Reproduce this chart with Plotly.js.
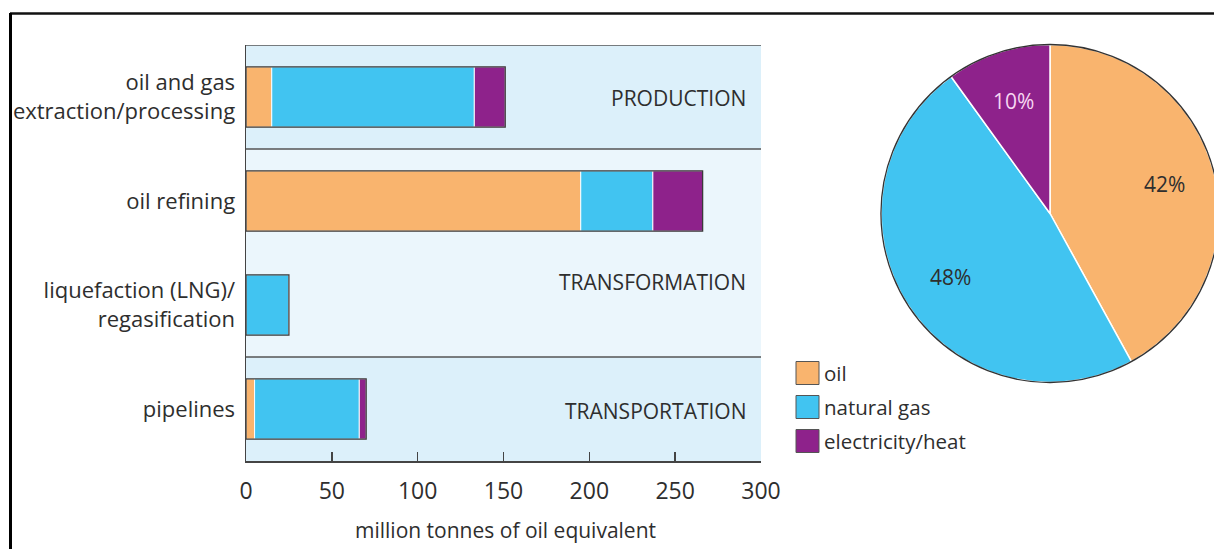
<!DOCTYPE html>
<html>
<head>
<meta charset="utf-8">
<script src="https://cdn.plot.ly/plotly-3.0.1.min.js"></script>
<style>
  html, body { margin: 0; padding: 0; overflow: hidden; background: #fff; }
  #chart { width: 1222px; height: 549px; }
</style>
</head>
<body>
<div id="chart"></div>
<script>
// Energy used by the oil and gas supply chain, million tonnes of oil equivalent
const stages = [
  'oil and gas<br>extraction/processing',
  'oil refining',
  'liquefaction (LNG)/<br>regasification',
  'pipelines'
];
const oil = [15, 195, 0, 5];
const naturalGas = [118, 42, 25, 61];
const electricityHeat = [18, 29, 0, 4];

const seriesNames = ['oil', 'natural gas', 'electricity/heat'];
const sectionNames = ['PRODUCTION', 'TRANSFORMATION', 'TRANSPORTATION'];
const xTicks = [0, 50, 100, 150, 200, 250, 300];

// styling
const seriesColors = ['#f9b46e', '#41c4f1', '#8e228b'];
const pieTextColors = ['#2e2e2e', '#2e2e2e', '#f6d6f2'];
const bandColors = ['#dcf0fa', '#ebf6fc', '#dcf0fa'];
const sectionSpans = [[0, 0], [1, 2], [3, 3]];   // first/last stage index in each section
const sectionLabelY = [0.01, 1.78, 3.02];
const FONT = 'Open Sans, sans-serif';
const INK = '#2e2e2e';
const W = 1222, H = 549;
const px = x => x / W;
const py = y => 1 - y / H;

const series = [oil, naturalGas, electricityHeat];
const sum = arr => arr.reduce((a, b) => a + b, 0);
const stageTotals = stages.map((_, i) => series.reduce((a, s) => a + s[i], 0));
const seriesTotals = series.map(sum);
const grandTotal = sum(seriesTotals);

// stacked segments drawn in overlay mode with explicit bases
const traces = [];
let running = stages.map(() => 0);
series.forEach((vals, k) => {
  traces.push({
    type: 'bar', orientation: 'h',
    y: stages, x: vals, base: running.slice(),
    width: 0.58,
    marker: { color: seriesColors[k], line: { color: 'rgba(255,255,255,0.95)', width: 1 } },
    name: seriesNames[k], showlegend: false, hoverinfo: 'x+name'
  });
  running = running.map((r, i) => r + vals[i]);
});
// dark outline around each whole bar
traces.push({
  type: 'bar', orientation: 'h',
  y: stages, x: stageTotals, base: stages.map(() => 0),
  width: 0.58,
  marker: { color: 'rgba(0,0,0,0)', line: { color: '#3a3a3a', width: 1.3 } },
  showlegend: false, hoverinfo: 'skip'
});

// share of each fuel across the whole chain
const pieCx = 1050, pieCy = 213.5, pieR = 169;
const pieDomain = { x: [px(pieCx - pieR), px(pieCx + pieR)], y: [py(pieCy + pieR), py(pieCy - pieR)] };
traces.push({
  type: 'pie',
  labels: seriesNames, values: seriesTotals,
  sort: false, direction: 'clockwise', rotation: 0,
  marker: { colors: seriesColors, line: { color: '#ffffff', width: 1.5 } },
  textinfo: 'none',
  domain: pieDomain, showlegend: false, hoverinfo: 'label+percent'
});
traces.push({
  type: 'pie',
  labels: ['all'], values: [grandTotal],
  marker: { colors: ['rgba(0,0,0,0)'], line: { color: '#333333', width: 1.3 } },
  textinfo: 'none', domain: pieDomain, showlegend: false, hoverinfo: 'skip'
});

const shapes = [];
const annotations = [];

// percentage labels placed at each slice's mid-angle
let cum = 0;
seriesTotals.forEach((v, k) => {
  const f = v / grandTotal;
  const a = 2 * Math.PI * (cum + f / 2);
  cum += f;
  const r = pieR * 0.7;
  annotations.push({
    xref: 'paper', yref: 'paper',
    x: px(pieCx + r * Math.sin(a)), y: py(pieCy - r * Math.cos(a)),
    xanchor: 'center', yanchor: 'middle', showarrow: false,
    text: Math.round(f * 100) + '%',
    font: { family: FONT, size: 21, color: pieTextColors[k] }
  });
});

// section bands and dividers
sectionSpans.forEach((span, i) => {
  shapes.push({
    type: 'rect', xref: 'x', yref: 'y', layer: 'below',
    x0: 0, x1: 300, y0: span[0] - 0.5, y1: span[1] + 0.5,
    fillcolor: bandColors[i], line: { width: 0 }
  });
  shapes.push({
    type: 'line', xref: 'x', yref: 'y',
    x0: 0, x1: 300, y0: span[0] - 0.5, y1: span[0] - 0.5,
    line: { color: '#555555', width: 1.5 }
  });
  annotations.push({
    xref: 'x', yref: 'y', x: 292.5, y: sectionLabelY[i],
    xanchor: 'right', yanchor: 'middle', showarrow: false,
    text: sectionNames[i], font: { family: FONT, size: 21, color: INK }
  });
});

// legend
seriesNames.forEach((name, k) => {
  const cy = 373 + k * 34;
  shapes.push({
    type: 'rect', xref: 'paper', yref: 'paper',
    x0: px(796), x1: px(819), y0: py(cy + 11.5), y1: py(cy - 11.5),
    fillcolor: seriesColors[k], line: { color: '#555555', width: 1 }
  });
  annotations.push({
    xref: 'paper', yref: 'paper', x: px(822), y: py(cy),
    xanchor: 'left', yanchor: 'middle', showarrow: false,
    text: name, font: { family: FONT, size: 20.5, color: INK }
  });
});

// frame
shapes.push({ type: 'line', xref: 'paper', yref: 'paper',
  x0: px(10), x1: 1, y0: py(13.5), y1: py(13.5), line: { color: '#111', width: 2.5 } });
shapes.push({ type: 'line', xref: 'paper', yref: 'paper',
  x0: px(10.5), x1: px(10.5), y0: py(13), y1: 0, line: { color: '#000', width: 3 } });

// axis title
annotations.push({
  xref: 'paper', yref: 'paper', x: px(505), y: py(530),
  xanchor: 'center', yanchor: 'middle', showarrow: false,
  text: 'million tonnes of oil equivalent', font: { family: FONT, size: 21, color: INK }
});

const layout = {
  width: W, height: H,
  margin: { l: 0, r: 0, t: 0, b: 0 },
  paper_bgcolor: '#ffffff', plot_bgcolor: 'rgba(0,0,0,0)',
  barmode: 'overlay',
  font: { family: FONT, color: INK },
  showlegend: false,
  xaxis: {
    domain: [px(246), px(761)], range: [0, 300],
    tickvals: xTicks, ticktext: xTicks.map(String),
    ticks: 'inside', ticklen: 9, tickwidth: 1.5, tickcolor: '#444',
    showline: true, linecolor: '#444', linewidth: 1.5,
    showgrid: false, zeroline: false,
    tickfont: { family: FONT, size: 23, color: INK },
    ticklabelstandoff: 9, fixedrange: true
  },
  yaxis: {
    domain: [py(461), py(45)], type: 'category',
    categoryorder: 'array', categoryarray: stages,
    range: [3.5, -0.5],
    showline: true, linecolor: '#444', linewidth: 1.5,
    ticks: '', showgrid: false, zeroline: false,
    tickfont: { family: FONT, size: 22, color: INK },
    ticklabelstandoff: 5, fixedrange: true
  },
  shapes: shapes,
  annotations: annotations
};

Plotly.newPlot('chart', traces, layout, { displayModeBar: false, staticPlot: true });
</script>
</body>
</html>
